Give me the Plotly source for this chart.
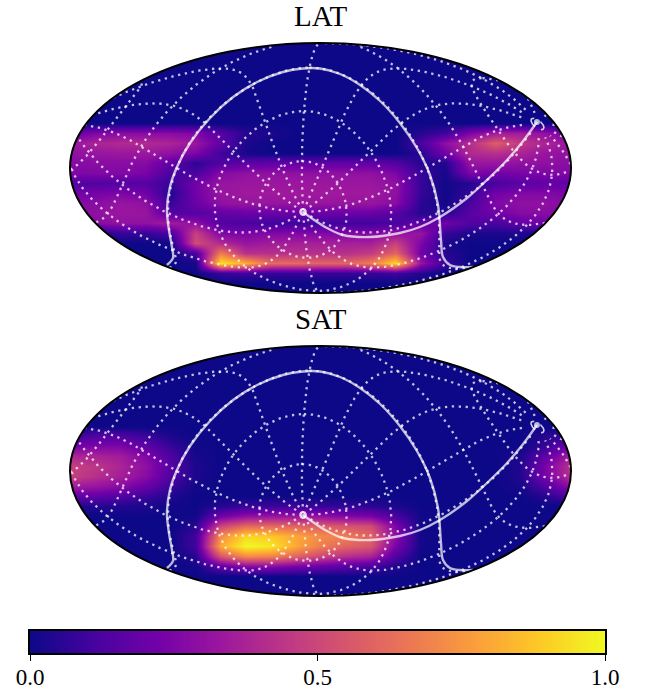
import numpy as np
import plotly.graph_objects as go

# Map-plane sampling: columns run across the Mollweide ellipse, rows top to bottom
map_x = [round(-1 + 0.1 * i, 2) for i in range(21)]
map_y = [round(1 - 0.08 * i, 2) for i in range(26)]

# Relative sensitivity in percent, top row first
lat_rows = [
    [0]*21, [0]*21, [0]*21, [0]*21, [0]*21, [0]*21, [0]*21, [0]*21, [0]*21,
    [20,25,28,28,28,25,15,5,3,0,0,0,0,0,5,10,25,35,35,30,20],
    [32,38,40,40,38,33,18,3,0,0,0,0,0,0,12,30,42,58,45,38,32],
    [30,32,33,33,30,25,10,2,0,0,0,0,0,0,5,22,40,42,38,32,30],
    [27,28,28,27,18,6,14,17,18,18,18,18,18,15,5,4,32,32,30,30,28],
    [25,26,26,24,12,12,27,30,30,30,30,30,30,25,8,2,25,22,24,25,26],
    [14,14,15,15,8,22,32,33,33,33,33,33,33,30,8,1,5,12,16,18,18],
    [22,23,25,22,4,22,32,34,34,34,34,34,34,30,8,1,8,22,26,26,24],
    [26,28,32,30,8,20,30,32,32,32,32,32,32,28,6,1,12,26,30,30,26],
    [26,30,33,32,15,15,18,20,20,20,20,20,20,15,5,5,16,22,27,28,24],
    [20,28,30,30,35,30,14,12,10,10,10,10,10,12,18,22,14,12,18,22,18],
    [0,3,8,8,12,48,25,24,26,26,26,26,26,30,32,8,3,3,3,2,0],
    [0,0,0,0,0,52,40,32,35,36,36,36,36,48,25,3,0,0,0,0,0],
    [0,0,0,0,0,12,68,42,42,42,42,42,46,60,22,5,0,0,0,0,0],
    [0,0,0,0,0,2,95,82,62,62,60,60,68,92,32,8,0,0,0,0,0],
    [0,0,0,0,0,0,8,10,8,8,8,8,8,10,4,0,0,0,0,0,0],
    [0]*21, [0]*21,
]
sat_rows = [
    [0]*21, [0]*21, [0]*21, [0]*21, [0]*21, [0]*21, [0]*21, [0]*21, [0]*21,
    [10,14,14,9,3,0,0,0,0,0,0,0,0,0,0,0,0,0,0,5,10],
    [22,25,25,18,8,1,0,0,0,0,0,0,0,0,0,0,0,0,0,8,22],
    [38,38,35,26,13,2,0,0,0,0,0,0,0,0,0,0,0,0,3,18,36],
    [48,44,38,30,15,3,0,0,0,0,0,0,0,0,0,0,0,0,4,24,44],
    [48,42,36,28,14,3,0,0,0,0,0,0,0,0,0,0,0,0,4,24,42],
    [35,32,28,20,9,1,0,0,0,0,0,0,0,0,0,0,0,0,2,14,30],
    [18,18,14,9,4,0,0,0,0,0,0,0,0,0,0,0,0,0,0,5,14],
    [3,4,4,3,1,0,5,8,9,9,8,7,6,3,0,0,0,0,0,0,0],
    [0,0,0,0,0,1,22,30,32,32,30,26,24,12,1,0,0,0,0,0,0],
    [0,0,0,0,0,5,50,62,62,60,58,55,52,25,1,0,0,0,0,0,0],
    [0,0,0,0,0,10,72,92,88,80,72,68,60,28,1,0,0,0,0,0,0],
    [0,0,0,0,0,10,80,100,96,80,68,60,55,24,1,0,0,0,0,0,0],
    [0,0,0,0,0,5,55,72,70,60,50,42,38,14,0,0,0,0,0,0,0],
    [0,0,0,0,0,1,18,28,28,24,20,16,12,4,0,0,0,0,0,0,0],
    [0]*21, [0]*21, [0]*21,
]

# Solid curves in the map plane
arc_x = [-.613,-.589,-.593,-.605,-.613,-.601,-.573,-.521,-.441,-.349,-.253,-.15,-.07,-.002,.078,.158,.238,.317,.385,.437,.469,.481,.489,.517,.557,.609]
arc_y = [-.776,-.72,-.632,-.496,-.336,-.152,.008,.2,.4,.568,.688,.768,.796,.796,.752,.664,.536,.36,.16,-.056,-.296,-.576,-.712,-.776,-.792,-.792]
link_x = [-.07,-.042,.026,.09,.198,.317,.397,.477,.585,.677,.745,.809,.864]
link_y = [-.352,-.392,-.48,-.536,-.552,-.52,-.472,-.392,-.24,-.072,.064,.216,.368]

# Graticule: pole of the rotated frame (degrees) and line spacing
pole_lon, pole_lat = -13.4, -26.0
ring_radii = [30, 60, 90, 120, 150]
cap_ring_radius = 176.5
meridian_azimuths = list(range(0, 360, 30))
titles = ["LAT", "SAT"]
tick_vals = [0.0, 0.5, 1.0]
tick_text = ["0.0", "0.5", "1.0"]

FONT = "Liberation Serif"
W, H = 646, 691
A, B = 250.5, 125.0
PAD_X, PAD_Y = 1.03, 1.04
CX = 320.5
CENTERS = [168, 471]
BAR_LEFT, BAR_RIGHT, BAR_TOP, BAR_BOTTOM = 30, 605, 631, 653


def mollweide(lon, lat):
    lon = (np.asarray(lon) + 180) % 360 - 180
    phi = np.radians(lat)
    th = phi.copy()
    for _ in range(60):
        d = 2 + 2 * np.cos(2 * th)
        d = np.where(np.abs(d) < 1e-6, 1e-6, d)
        th = th - (2 * th + np.sin(2 * th) - np.pi * np.sin(phi)) / d
    return lon / 180 * np.cos(th), np.sin(th), lon


def from_pole(dist, az):
    d, a = np.radians(dist), np.radians(az)
    p = np.radians(pole_lat)
    s = np.sin(p) * np.cos(d) + np.cos(p) * np.sin(d) * np.cos(a)
    lat = np.arcsin(np.clip(s, -1, 1))
    dl = np.arctan2(np.sin(a) * np.sin(d) * np.cos(p), np.cos(d) - np.sin(p) * s)
    return pole_lon + np.degrees(dl), np.degrees(lat)


def project_lines(curves):
    xs, ys = [], []
    for lon, lat in curves:
        x, y, wrapped = mollweide(lon, lat)
        jump = np.where(np.abs(np.diff(wrapped)) > 180)[0]
        x = np.insert(x.astype(float), jump + 1, np.nan)
        y = np.insert(y.astype(float), jump + 1, np.nan)
        xs += list(x) + [None]
        ys += list(y) + [None]
    return xs, ys


curves = [from_pole(np.full(361, float(r)), np.arange(361.0)) for r in ring_radii]
curves += [from_pole(np.linspace(1, 172, 200), np.full(200, float(az))) for az in meridian_azimuths]
grat_x, grat_y = project_lines(curves)
cap_x, cap_y = project_lines([from_pole(np.full(181, float(cap_ring_radius)), np.arange(0.0, 362.0, 2.0))])

fig = go.Figure()
t = np.linspace(0, 2 * np.pi, 241)
ellipse = " ".join(f"{'M' if i == 0 else 'L'}{np.cos(v):.5f},{np.sin(v):.5f}" for i, v in enumerate(t)) + " Z"
mask = "M-3,-3 L3,-3 L3,3 L-3,3 Z " + ellipse

for idx, rows in enumerate([lat_rows, sat_rows]):
    sfx = "" if idx == 0 else "2"
    xa, ya = "x" + sfx, "y" + sfx
    z = (np.array(rows[::-1], dtype=float) / 100).tolist()
    fig.add_trace(go.Heatmap(x=map_x, y=map_y[::-1], z=z, coloraxis="coloraxis", zsmooth="best",
                             xaxis=xa, yaxis=ya, hoverinfo="skip"))
    fig.add_trace(go.Scatter(x=grat_x, y=grat_y, mode="lines", xaxis=xa, yaxis=ya,
                             line=dict(color="rgba(255,255,255,0.75)", width=2.3, dash="2.3px,4.6px"),
                             hoverinfo="skip", connectgaps=False))
    fig.add_trace(go.Scatter(x=cap_x, y=cap_y, mode="lines", xaxis=xa, yaxis=ya,
                             line=dict(color="rgba(255,255,255,0.8)", width=1.6, dash="11px,7px"),
                             hoverinfo="skip", connectgaps=False))
    for cx, cy in [(arc_x, arc_y), (link_x, link_y)]:
        fig.add_trace(go.Scatter(x=cx, y=cy, mode="lines", xaxis=xa, yaxis=ya,
                                 line=dict(color="rgba(255,255,255,0.72)", width=2.4, shape="spline", smoothing=1.0),
                                 hoverinfo="skip"))
    fig.add_trace(go.Scatter(x=[link_x[0], link_x[-1]], y=[link_y[0], link_y[-1]], mode="markers",
                             xaxis=xa, yaxis=ya, marker=dict(color="white", size=[2, 6], line=dict(width=0)),
                             hoverinfo="skip"))
    fig.add_shape(type="path", path=mask, xref=xa, yref=ya, fillcolor="white", fillrule="evenodd",
                  line=dict(width=0), layer="above")
    fig.add_shape(type="circle", x0=-1, x1=1, y0=-1, y1=1, xref=xa, yref=ya,
                  line=dict(color="black", width=2), layer="above")
    cy = CENTERS[idx]
    dom_x = [(CX - A * PAD_X) / W, (CX + A * PAD_X) / W]
    dom_y = [(H - cy - B * PAD_Y) / H, (H - cy + B * PAD_Y) / H]
    fig.add_shape(type="rect", xref="paper", yref="paper", x0=dom_x[0], x1=dom_x[1], y0=dom_y[0], y1=dom_y[1],
                  line=dict(color="white", width=4), fillcolor="rgba(0,0,0,0)", layer="above")
    ax = dict(range=[-PAD_X, PAD_X], domain=dom_x, visible=False, showgrid=False, zeroline=False)
    ay = dict(range=[-PAD_Y, PAD_Y], domain=dom_y, visible=False, showgrid=False, zeroline=False)
    fig.update_layout({"xaxis" + sfx: ax, "yaxis" + sfx: ay})
    fig.add_annotation(text=titles[idx], x=CX / W, y=(H - cy + 152) / H, xref="paper", yref="paper",
                       showarrow=False, font=dict(family=FONT, size=29, color="black"), yanchor="middle")

# Colour bar drawn as its own small axis so that it cannot push the map margins
bar_values = np.linspace(0, 1, 256).tolist()
fig.add_trace(go.Heatmap(x=bar_values, y=[0], z=[bar_values], coloraxis="coloraxis", xaxis="x3", yaxis="y3",
                         hoverinfo="skip"))
fig.update_layout(
    width=W, height=H, margin=dict(l=0, r=0, t=0, b=0, pad=0, autoexpand=False), showlegend=False,
    paper_bgcolor="white", plot_bgcolor="white",
    coloraxis=dict(colorscale="Plasma", cmin=0, cmax=1, showscale=False),
    xaxis3=dict(domain=[BAR_LEFT / W, BAR_RIGHT / W], range=[0, 1], anchor="y3", tickmode="array",
                tickvals=tick_vals, ticktext=tick_text, ticks="outside", ticklen=6, tickwidth=1.2,
                tickcolor="black", showline=True, linecolor="black", linewidth=1.6, mirror=True,
                showgrid=False, zeroline=False, automargin=False, ticklabelstandoff=-3,
                tickfont=dict(family=FONT, size=23, color="black")),
    yaxis3=dict(domain=[(H - BAR_BOTTOM) / H, (H - BAR_TOP) / H], range=[-0.5, 0.5], anchor="x3",
                showticklabels=False, ticks="", showline=True, linecolor="black", linewidth=1.6,
                mirror=True, showgrid=False, zeroline=False, automargin=False),
)
fig.write_html("out.html", config=dict(displayModeBar=False),
               post_script="document.body.style.margin='0';document.documentElement.style.overflow='hidden';")
